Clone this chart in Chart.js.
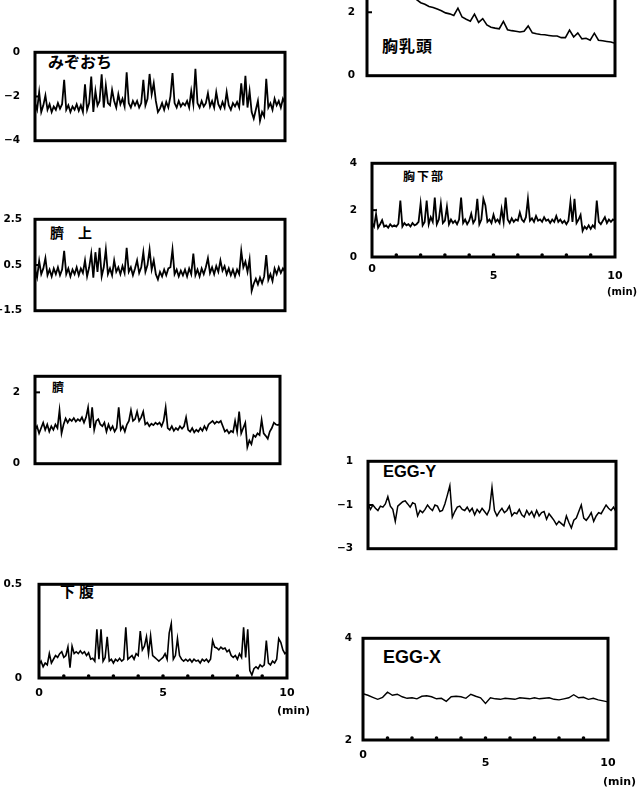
<!DOCTYPE html>
<html><head><meta charset="utf-8">
<script src="https://cdn.jsdelivr.net/npm/chart.js@4.4.0/dist/chart.umd.min.js"></script>
<style>
html,body{margin:0;padding:0;background:#fff;width:639px;height:797px;overflow:hidden;position:relative}
canvas{position:absolute}
.lbl{position:absolute;line-height:1;white-space:pre;color:#000;font-weight:bold}
.jp{font-family:"Noto Sans CJK JP",sans-serif}
.en{font-family:"Liberation Sans",Arial,sans-serif}
</style></head><body>
<div class="lbl jp" style="left:48px;top:53px;font-size:16px">みぞおち</div>
<div class="lbl jp" style="left:50px;top:225px;font-size:14px">臍　上</div>
<div class="lbl jp" style="left:52px;top:381px;font-size:12px">臍</div>
<div class="lbl jp" style="left:60px;top:583px;font-size:15px;letter-spacing:4px">下腹</div>
<div class="lbl jp" style="left:382px;top:37px;font-size:16px;letter-spacing:1px">胸乳頭</div>
<div class="lbl jp" style="left:403px;top:170px;font-size:12px;letter-spacing:2px">胸下部</div>
<div class="lbl en" style="left:383px;top:463px;font-size:16.5px">EGG-Y</div>
<div class="lbl en" style="left:383px;top:648px;font-size:18px">EGG-X</div>
<script>
// ---- data (time axis 0-10 min) ----
const xTickValues = [0, 5, 10];
const xTickLabels = ['0', '5', '10'];
const minuteMarks = [1, 2, 3, 4, 5, 6, 7, 8, 9];
const unitLabel = '(min)';

const epigastrium = [-2.3,-2.6,-1.8,-2.7,-2.4,-1.95,-2.6,-2.35,-2.7,-2.45,-2.6,-2.3,
 -2.55,-2.35,-1.25,-2.6,-2.4,-2.7,-2.45,-2.6,-2.35,-2.65,-2.4,-2.7,
 -1.45,-2.6,-2.3,-1.1,-2.7,-1.75,-2.4,-2.2,-1.0,-2.5,-1.5,-2.3,
 -2.4,-1.7,-2.2,-2.5,-1.9,-2.35,-2.1,-2.45,-0.9,-2.3,-2.5,-2.2,
 -2.4,-2.2,-2.5,-2.3,-1.25,-2.4,-2.1,-0.98,-1.9,-1.4,-2.2,-2.7,
 -2.55,-2.3,-2.6,-2.25,-2.5,-2.0,-0.94,-2.3,-2.5,-2.2,-2.45,-2.3,
 -2.4,-2.2,-2.5,-1.75,-2.35,-0.75,-2.3,-2.5,-2.2,-2.45,-2.3,-1.85,
 -2.45,-2.2,-2.5,-1.8,-2.35,-2.55,-2.25,-2.5,-1.8,-2.4,-2.6,-2.3,
 -2.45,-2.25,-2.5,-1.4,-2.4,-1.06,-2.5,-1.75,-2.7,-3.0,-2.6,-2.2,
 -3.1,-2.7,-2.9,-1.2,-2.5,-2.3,-2.6,-2.1,-2.4,-2.2,-2.5,-2.1,-2.3];

const aboveNavel = [0.3,-0.05,0.68,0.1,0.35,0.8,0.05,0.3,0.0,0.35,0.1,0.4,
 0.05,0.3,1.12,0.1,0.35,0.0,0.3,0.1,0.4,0.05,0.35,0.15,
 0.7,0.0,0.4,1.0,-0.05,1.06,0.2,1.25,0.0,0.4,1.18,0.1,
 0.35,0.05,0.7,0.2,0.4,0.1,0.45,0.15,1.25,0.2,0.4,0.05,
 0.35,0.7,0.15,0.4,1.06,0.2,0.5,1.18,0.3,0.7,0.1,-0.13,
 0.2,0.0,0.3,0.05,0.35,0.4,1.18,0.1,0.3,0.0,0.25,0.05,
 0.3,0.0,0.35,0.1,1.0,0.05,0.3,0.0,0.35,0.1,0.4,0.8,
 0.15,0.4,0.1,0.45,0.2,0.7,0.25,0.45,0.1,0.35,0.05,0.3,
 0.0,0.3,0.1,1.12,0.4,0.65,0.2,0.75,-0.63,-0.32,-0.1,-0.35,
 -0.05,-0.3,0.0,0.93,-0.15,0.1,-0.2,0.35,0.1,0.4,0.15,0.35,0.2];

const navel = [0.95,1.05,0.85,1.0,1.15,0.95,1.1,0.9,1.05,0.95,1.1,1.0,
 1.5,0.85,1.1,1.27,1.15,1.25,1.2,1.28,1.18,1.25,1.2,1.3,
 1.15,1.3,1.58,1.0,1.58,0.95,1.2,1.25,1.1,1.05,1.15,0.9,
 1.1,0.95,1.05,0.9,1.0,1.58,0.95,1.05,0.9,1.1,1.2,1.5,
 1.2,1.25,1.46,1.2,1.3,1.46,1.1,1.15,1.05,1.12,1.08,1.15,
 1.1,1.15,1.05,1.2,1.58,1.0,0.95,1.05,0.92,1.0,0.95,1.05,
 0.98,1.05,1.3,0.95,0.9,1.0,0.88,0.95,0.9,1.0,0.92,1.05,
 0.95,1.1,1.15,1.2,1.12,1.18,1.15,1.2,1.05,0.9,0.95,0.85,
 0.92,0.88,1.2,0.9,1.46,0.85,1.0,1.15,0.46,0.65,0.55,0.8,
 0.75,0.85,0.8,1.23,0.85,0.78,0.7,0.9,1.0,1.15,1.1,1.08,1.12];

const lowerAbdomen = [0.07,0.09,0.06,0.08,0.07,0.13,0.08,0.1,0.12,0.11,0.13,0.14,
 0.11,0.12,0.165,0.055,0.17,0.13,0.14,0.13,0.145,0.13,0.14,0.12,
 0.135,0.1,0.105,0.09,0.26,0.1,0.26,0.09,0.11,0.22,0.09,0.1,
 0.08,0.1,0.09,0.105,0.09,0.1,0.27,0.1,0.11,0.12,0.1,0.13,
 0.12,0.25,0.15,0.17,0.22,0.13,0.225,0.12,0.11,0.1,0.09,0.1,
 0.11,0.13,0.1,0.24,0.29,0.1,0.12,0.21,0.12,0.1,0.09,0.1,
 0.09,0.1,0.085,0.1,0.09,0.095,0.08,0.1,0.09,0.1,0.085,0.1,
 0.2,0.165,0.16,0.15,0.165,0.155,0.16,0.14,0.15,0.12,0.11,0.12,
 0.1,0.13,0.11,0.27,0.11,0.26,0.04,0.016,0.05,0.06,0.05,0.07,
 0.06,0.07,0.2,0.08,0.07,0.09,0.08,0.1,0.21,0.19,0.15,0.13,0.14];

const nipple = [3.4,3.3,3.2,3.1,3.0,2.95,2.88,2.8,2.72,2.6,2.55,2.48,
 2.4,2.3,2.25,2.18,2.15,2.1,2.05,1.98,1.95,1.9,2.13,1.85,
 1.78,1.72,1.94,1.68,1.8,1.6,1.53,1.5,1.48,1.71,1.45,1.42,
 1.4,1.38,1.4,1.57,1.35,1.32,1.3,1.29,1.27,1.25,1.25,1.2,
 1.2,1.44,1.22,1.35,1.16,1.18,1.12,1.34,1.12,1.1,1.08,1.06,1.02];

const lowerChest = [1.45,1.3,1.83,1.25,1.4,1.57,1.3,1.35,1.25,1.4,1.3,1.35,
 1.3,1.42,2.41,1.3,1.45,1.35,1.4,1.3,1.45,1.35,1.4,1.5,
 2.28,1.35,1.5,2.41,1.4,1.7,1.5,2.54,1.4,1.6,2.28,1.45,
 1.55,2.15,1.4,1.6,1.45,1.55,1.4,1.6,2.54,1.45,1.6,1.4,
 1.55,1.85,1.45,1.6,2.48,1.4,1.6,2.48,2.2,1.5,1.6,1.45,
 1.8,1.5,1.6,1.45,2.05,1.5,2.54,1.6,1.45,1.65,1.5,1.6,
 1.55,1.9,1.6,1.5,1.7,2.48,1.55,1.65,1.5,1.75,1.55,1.6,
 1.5,1.7,1.55,1.6,1.45,1.6,1.5,1.75,1.5,1.6,1.45,1.55,
 1.4,1.55,2.35,1.5,2.48,1.45,1.6,1.8,1.12,1.3,1.2,1.35,
 1.2,1.35,1.25,2.41,1.5,1.4,1.55,1.7,1.45,1.6,1.5,1.6,1.55];

const eggY = [-0.94,-1.2,-1.0,-1.15,-1.25,-1.05,-1.1,-0.95,-0.62,-1.05,
 -1.2,-1.75,-1.05,-0.95,-0.85,-0.81,-0.95,-1.1,-0.9,-0.95,
 -1.5,-1.25,-1.35,-1.2,-1.0,-1.15,-1.25,-1.0,-1.05,-1.3,
 -1.25,-0.95,-0.55,-0.12,-1.56,-1.3,-1.1,-1.05,-1.2,-1.25,
 -1.1,-1.3,-1.15,-1.45,-1.2,-1.35,-1.15,-1.3,-1.45,-1.2,
 -0.19,-1.25,-1.5,-1.3,-1.15,-1.35,-1.25,-1.05,-1.5,-1.35,
 -1.4,-1.2,-1.45,-1.55,-1.25,-1.45,-1.3,-1.55,-1.25,-1.5,
 -1.35,-1.3,-1.65,-1.4,-1.55,-1.7,-1.9,-1.75,-1.85,-1.95,
 -1.5,-1.8,-2.05,-1.7,-1.6,-1.3,-1.0,-1.6,-1.7,-1.55,
 -1.35,-1.75,-1.5,-1.35,-1.4,-1.2,-1.0,-1.15,-1.25,-1.1,-1.3];

const eggX = [2.91,2.88,2.84,2.8,2.84,2.94,2.88,2.9,2.85,2.82,
 2.83,2.81,2.86,2.87,2.85,2.81,2.82,2.76,2.85,2.86,
 2.85,2.82,2.9,2.86,2.83,2.72,2.83,2.81,2.8,2.82,
 2.81,2.8,2.83,2.82,2.81,2.83,2.81,2.82,2.83,2.8,
 2.79,2.81,2.83,2.89,2.83,2.84,2.8,2.82,2.79,2.77,2.75];

// y-axis tick values & labels per panel
const epiTicks = [-4, -2, 0],        epiLabels = ['−4', '−2', '0'];
const aboveTicks = [-1.5, 0.5, 2.5], aboveLabels = ['−1.5', '0.5', '2.5'];
const navelTicks = [0, 2],           navelLabels = ['0', '2'];
const lowerAbdTicks = [0, 0.5],      lowerAbdLabels = ['0', '0.5'];
const nippleTicks = [0, 2],          nippleLabels = ['0', '2'];
const lowerChestTicks = [0, 2, 4],   lowerChestLabels = ['0', '2', '4'];
const eggYTicks = [-3, -1, 1],       eggYLabels = ['−3', '−1', '1'];
const eggXTicks = [2, 4],            eggXLabels = ['2', '4'];

// ---- layout (page boxes) ----
const panels = [
  {v: epigastrium, yMin:-4, yMax:0, ticks:epiTicks, labels:epiLabels, box:[35,43,285,150], cx:0, yPad:15, lw:1.8},
  {v: aboveNavel, yMin:-1.5, yMax:2.5, ticks:aboveTicks, labels:aboveLabels, box:[35,212,285,318], cx:0, yPad:13, lw:1.8},
  {v: navel, yMin:0, yMax:2.45, ticks:navelTicks, labels:navelLabels, box:[35,367,280,473], cx:0, yPad:15, lw:1.7},
  {v: lowerAbdomen, yMin:0, yMax:0.5, ticks:lowerAbdTicks, labels:lowerAbdLabels, box:[39,573,287,678], cx:0, yPad:17, lw:1.6,
   xl:{pad:8.4, lh0:13.2, lh:13.2, dx:-10, dy:33, size:11}},
  {v: nipple, yMin:0, yMax:2.85, ticks:nippleTicks, labels:nippleLabels, box:[367,-21,615,82], cx:330, yPad:12, lw:1.6},
  {v: lowerChest, yMin:0, yMax:4, ticks:lowerChestTicks, labels:lowerChestLabels, box:[372,154,615,257], cx:330, yPad:15, lw:1.8,
   xl:{pad:12, lh0:0, lh:15, dx:-8, dy:35, size:10}},
  {v: eggY, yMin:-3, yMax:1, ticks:eggYTicks, labels:eggYLabels, box:[368,452,616,558], cx:330, yPad:15, lw:1.5},
  {v: eggX, yMin:2, yMax:4, ticks:eggXTicks, labels:eggXLabels, box:[363,633,608,740], cx:330, yPad:11, lw:1.4,
   xl:{pad:15.5, lh0:0, lh:16, dx:-5, dy:42, size:11}}
];

const framePlugin = {
  id: 'frame',
  afterDatasetsDraw(chart, args, o) {
    const {ctx, chartArea: a} = chart;
    const x = chart.scales.x, y = chart.scales.y;
    ctx.save();
    ctx.strokeStyle = '#000'; ctx.fillStyle = '#000';
    ctx.lineWidth = 3;
    ctx.strokeRect(a.left, a.top, a.right - a.left, a.bottom - a.top);
    ctx.lineWidth = 2;
    o.inner.forEach(v => {
      const py = y.getPixelForValue(v);
      ctx.beginPath(); ctx.moveTo(a.left, py); ctx.lineTo(a.left + 5, py); ctx.stroke();
    });
    if (o.xl) {
      minuteMarks.forEach(m => {
        const px = x.getPixelForValue(m);
        ctx.beginPath(); ctx.arc(px, a.bottom - 2, 1.8, 0, Math.PI * 2); ctx.fill();
      });
      ctx.font = 'bold ' + o.xl.size + 'px "DejaVu Sans"';
      ctx.textAlign = 'left'; ctx.textBaseline = 'middle';
      ctx.fillText(unitLabel, x.getPixelForValue(10) + o.xl.dx, a.bottom + o.xl.dy);
    }
    ctx.restore();
  }
};

panels.forEach(p => {
  const [l, t, r, b] = p.box;
  const PT = 12;
  const XH = p.xl ? 56 : 12;
  const AXW = l - p.cx;
  const W = (p.cx === 0 ? 330 : 639) - p.cx;
  const PR = W - (r - p.cx);
  const H = PT + (b - t) + XH;
  const c = document.createElement('canvas');
  c.width = W; c.height = H;
  c.style.left = p.cx + 'px'; c.style.top = (t - PT) + 'px';
  c.style.width = W + 'px'; c.style.height = H + 'px';
  document.body.appendChild(c);
  const n = p.v.length;
  const pts = p.v.map((val, i) => ({x: i * 10 / (n - 1), y: val}));
  const inner = p.ticks.filter(v => v > p.yMin && v < p.yMax);
  new Chart(c, {
    type: 'line',
    data: {datasets: [{data: pts, borderColor: '#000', borderWidth: p.lw, pointRadius: 0, tension: 0, fill: false, borderJoinStyle: 'miter'}]},
    options: {
      responsive: false, animation: false, devicePixelRatio: 1,
      layout: {padding: {left: 0, right: PR, top: PT, bottom: 0}},
      plugins: {legend: {display: false}, tooltip: {enabled: false}, frame: {inner: inner, xl: p.xl || null}},
      scales: {
        x: {
          type: 'linear', min: 0, max: 10,
          grid: {display: false, drawTicks: false}, border: {display: false},
          afterBuildTicks(s) { s.ticks = xTickValues.map(v => ({value: v})); },
          afterFit(s) { s.height = XH; },
          ticks: {
            display: !!p.xl, padding: p.xl ? p.xl.pad : 0, color: '#000', maxRotation: 0, autoSkip: false,
            font: (ctx) => ({family: 'DejaVu Sans', weight: 'bold', size: 11,
              lineHeight: (p.xl ? (ctx.index === 0 ? p.xl.lh0 : p.xl.lh) : 13) + 'px'}),
            callback: (v, i) => xTickLabels[i]
          }
        },
        y: {
          type: 'linear', min: p.yMin, max: p.yMax,
          grid: {display: false, drawTicks: false}, border: {display: false},
          afterBuildTicks(s) { s.ticks = p.ticks.map(v => ({value: v})); },
          afterFit(s) { s.width = AXW; },
          ticks: {padding: p.yPad, color: '#000', autoSkip: false,
            font: {family: 'DejaVu Sans', weight: 'bold', size: 10.5},
            callback: (v, i) => p.labels[i]}
        }
      }
    },
    plugins: [framePlugin]
  });
});
</script>
</body></html>
